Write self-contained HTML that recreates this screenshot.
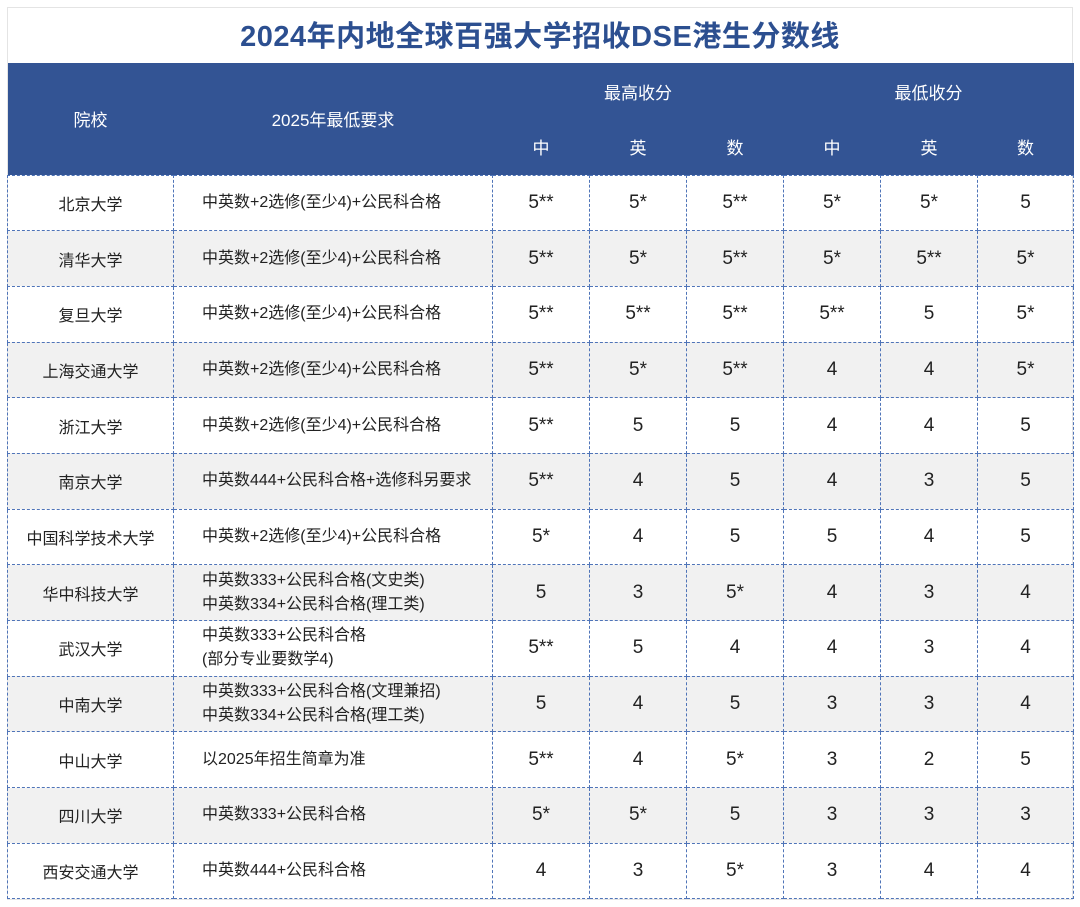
<!DOCTYPE html>
<html><head><meta charset="utf-8"><style>
body{margin:0;width:1080px;height:907px;background:#fff;font-family:"Liberation Sans","Noto Sans CJK SC",sans-serif;overflow:hidden;position:relative}
.frame{position:absolute;left:7px;top:7px;width:1066px;height:893px;border:1px solid #e4e4e4;box-sizing:border-box}
.title{position:absolute;left:0;top:13px;width:1080px;text-align:center;font-size:29px;font-weight:bold;color:#2c4f90;letter-spacing:0.5px}
table{position:absolute;left:7px;top:63px;border-collapse:collapse;table-layout:fixed}
td{border:1px dashed #4f74b8;text-align:center;color:#222;padding:0;font-size:16px}
th{background:#335494;color:#fff;font-weight:normal;font-size:17px;border:none}
tr.b td{height:54.7px}
tr.g td{background:#f1f1f1}
td.n{font-size:19px}
td.l{text-align:left;padding-left:28px;line-height:24px}
</style></head><body>
<div class="frame"></div>
<div class="title">2024年内地全球百强大学招收DSE港生分数线</div>
<table>
<colgroup><col style="width:166px"><col style="width:319px"><col style="width:97px"><col style="width:97px"><col style="width:97px"><col style="width:97px"><col style="width:97px"><col style="width:96px"></colgroup>
<tr style="height:56px"><th rowspan="2">院校</th><th rowspan="2">2025年最低要求</th><th colspan="3">最高收分</th><th colspan="3">最低收分</th></tr>
<tr style="height:56px"><th>中</th><th>英</th><th>数</th><th>中</th><th>英</th><th>数</th></tr>
<tr class="b"><td>北京大学</td><td class="l">中英数+2选修(至少4)+公民科合格</td><td class="n">5**</td><td class="n">5*</td><td class="n">5**</td><td class="n">5*</td><td class="n">5*</td><td class="n">5</td></tr>
<tr class="b g"><td>清华大学</td><td class="l">中英数+2选修(至少4)+公民科合格</td><td class="n">5**</td><td class="n">5*</td><td class="n">5**</td><td class="n">5*</td><td class="n">5**</td><td class="n">5*</td></tr>
<tr class="b"><td>复旦大学</td><td class="l">中英数+2选修(至少4)+公民科合格</td><td class="n">5**</td><td class="n">5**</td><td class="n">5**</td><td class="n">5**</td><td class="n">5</td><td class="n">5*</td></tr>
<tr class="b g"><td>上海交通大学</td><td class="l">中英数+2选修(至少4)+公民科合格</td><td class="n">5**</td><td class="n">5*</td><td class="n">5**</td><td class="n">4</td><td class="n">4</td><td class="n">5*</td></tr>
<tr class="b"><td>浙江大学</td><td class="l">中英数+2选修(至少4)+公民科合格</td><td class="n">5**</td><td class="n">5</td><td class="n">5</td><td class="n">4</td><td class="n">4</td><td class="n">5</td></tr>
<tr class="b g"><td>南京大学</td><td class="l">中英数444+公民科合格+选修科另要求</td><td class="n">5**</td><td class="n">4</td><td class="n">5</td><td class="n">4</td><td class="n">3</td><td class="n">5</td></tr>
<tr class="b"><td>中国科学技术大学</td><td class="l">中英数+2选修(至少4)+公民科合格</td><td class="n">5*</td><td class="n">4</td><td class="n">5</td><td class="n">5</td><td class="n">4</td><td class="n">5</td></tr>
<tr class="b g"><td>华中科技大学</td><td class="l">中英数333+公民科合格(文史类)<br>中英数334+公民科合格(理工类)</td><td class="n">5</td><td class="n">3</td><td class="n">5*</td><td class="n">4</td><td class="n">3</td><td class="n">4</td></tr>
<tr class="b"><td>武汉大学</td><td class="l">中英数333+公民科合格<br>(部分专业要数学4)</td><td class="n">5**</td><td class="n">5</td><td class="n">4</td><td class="n">4</td><td class="n">3</td><td class="n">4</td></tr>
<tr class="b g"><td>中南大学</td><td class="l">中英数333+公民科合格(文理兼招)<br>中英数334+公民科合格(理工类)</td><td class="n">5</td><td class="n">4</td><td class="n">5</td><td class="n">3</td><td class="n">3</td><td class="n">4</td></tr>
<tr class="b"><td>中山大学</td><td class="l">以2025年招生简章为准</td><td class="n">5**</td><td class="n">4</td><td class="n">5*</td><td class="n">3</td><td class="n">2</td><td class="n">5</td></tr>
<tr class="b g"><td>四川大学</td><td class="l">中英数333+公民科合格</td><td class="n">5*</td><td class="n">5*</td><td class="n">5</td><td class="n">3</td><td class="n">3</td><td class="n">3</td></tr>
<tr class="b"><td>西安交通大学</td><td class="l">中英数444+公民科合格</td><td class="n">4</td><td class="n">3</td><td class="n">5*</td><td class="n">3</td><td class="n">4</td><td class="n">4</td></tr>
</table>
</body></html>
